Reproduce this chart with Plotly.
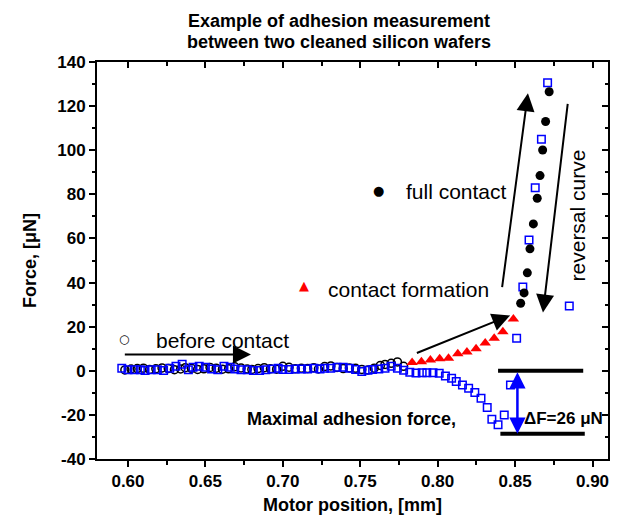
import plotly.graph_objects as go

# ---------------- data ----------------
before_x = [0.598, 0.602, 0.606, 0.610, 0.614, 0.618, 0.622, 0.626, 0.630, 0.634, 0.637, 0.641,
            0.645, 0.649, 0.653, 0.657, 0.661, 0.665, 0.669, 0.673, 0.677, 0.680, 0.684, 0.688,
            0.692, 0.696, 0.700, 0.704, 0.708, 0.712, 0.716, 0.720, 0.723, 0.727, 0.731, 0.735,
            0.739, 0.743, 0.747, 0.751, 0.755, 0.759, 0.763, 0.766, 0.770, 0.774, 0.778]
before_y = [0.4, 0.8, 1.0, 1.2, 0.6, 0.9, 1.3, 1.0, 0.5, 0.8, 1.4, 1.1, 0.6, 0.9, 1.5, 1.2,
            0.7, 0.9, 1.8, 1.3, 0.8, 0.6, 1.0, 1.4, 0.9, 0.7, 2.0, 1.6, 0.9, 1.2, 1.0, 1.4,
            0.8, 1.9, 2.2, 1.5, 1.0, 1.3, 1.1, 0.6, 0.4, 1.2, 2.4, 2.9, 3.4, 4.0, 2.0]

formation_x = [0.7835, 0.7895, 0.7953, 0.8013, 0.8070, 0.8130, 0.8189, 0.8248, 0.8307, 0.8365, 0.8421, 0.8489]
formation_y = [3.7, 4.1, 4.9, 5.5, 5.7, 7.7, 8.5, 10.0, 12.6, 14.7, 17.7, 23.5]

full_x = [0.8536, 0.8558, 0.8579, 0.8596, 0.8618, 0.8643, 0.8661, 0.8678, 0.8697, 0.8720]
full_y = [30.6, 35.3, 44.4, 55.3, 66.6, 78.2, 88.5, 100.1, 113.0, 126.5]

reversal_x = [0.596, 0.600, 0.604, 0.608, 0.611, 0.615, 0.619, 0.623, 0.627, 0.631, 0.635, 0.639,
              0.642, 0.646, 0.650, 0.654, 0.658, 0.662, 0.666, 0.669, 0.673, 0.677, 0.681, 0.685,
              0.689, 0.693, 0.697, 0.700, 0.704, 0.708, 0.712, 0.716, 0.720, 0.724, 0.727, 0.731,
              0.735, 0.739, 0.743, 0.747, 0.751, 0.755, 0.758, 0.762, 0.766, 0.770, 0.774, 0.778,
              0.782, 0.786, 0.790, 0.793, 0.797, 0.801, 0.805, 0.809, 0.812, 0.816, 0.820, 0.824,
              0.828, 0.832, 0.835, 0.839, 0.843, 0.847, 0.851, 0.855, 0.859, 0.863, 0.867, 0.871,
              0.885]
reversal_y = [1.1, 0.5, 0.5, 0.5, 0.1, 0.5, 0.5, 0.1, 1.1, 2.0, 3.0, 0.5, 1.6, 2.0, 1.6, 0.8,
              0.5, 2.0, 1.6, 0.8, 0.5, 0.5, 0.1, 0.1, 0.5, 0.8, 1.1,
              0.55, 0.55, 0.85, 0.85, 0.85, 1.15, 0.85, 1.15, 1.15, 1.6, 1.6, 1.15, 0.55, -0.3,
              0.2, 0.55, 0.85, 1.15, 2.1, 1.15, 0.2, -0.7, -1.0,
              -0.85, -0.85, -0.85, -1.1, -2.4, -3.4, -4.9, -6.4, -7.9, -9.9, -12.5, -16.6,
              -22.0, -24.5, -20.0, -6.4, 14.7, 38.0, 59.3, 83.0, 105.0, 130.6,
              29.4]

x_ticks = [0.60, 0.65, 0.70, 0.75, 0.80, 0.85, 0.90]
x_tick_labels = ["0.60", "0.65", "0.70", "0.75", "0.80", "0.85", "0.90"]
y_ticks = [-40, -20, 0, 20, 40, 60, 80, 100, 120, 140]
y_tick_labels = ["-40", "-20", "0", "20", "40", "60", "80", "100", "120", "140"]

adhesion_top = 0.0
adhesion_bottom = -28.5

FONT = "Liberation Sans, Arial, sans-serif"

fig = go.Figure()
fig.add_trace(go.Scatter(x=before_x, y=before_y, mode="markers",
                         marker=dict(symbol="circle-open", size=8, color="black", line=dict(width=1.5))))
fig.add_trace(go.Scatter(x=reversal_x, y=reversal_y, mode="markers",
                         marker=dict(symbol="square-open", size=7.5, color="#0000FF", line=dict(width=1.5))))
fig.add_trace(go.Scatter(x=formation_x, y=formation_y, mode="markers",
                         marker=dict(symbol="triangle-up", size=10, color="#FF0000")))
fig.add_trace(go.Scatter(x=full_x, y=full_y, mode="markers",
                         marker=dict(symbol="circle", size=9, color="black")))
# empty trace to register the mirrored (top/right) axes
fig.add_trace(go.Scatter(x=[], y=[], xaxis="x2", yaxis="y2", hoverinfo="skip"))

xr = [0.58, 0.91]
yr = [-40, 140]
ax_common = dict(showline=True, linecolor="black", linewidth=2, showgrid=False, zeroline=False,
                 tickcolor="black", tickwidth=2, ticklen=6, automargin=False)
# the page body has an 8px margin, so the figure is sized/margined to land the plot box
# at the same spot as in the reference
fig.update_layout(
    template="none",
    width=613, height=517, showlegend=False,
    plot_bgcolor="white", paper_bgcolor="white",
    margin=dict(l=89, r=13, t=54, b=66, autoexpand=False),
    font=dict(family=FONT, color="black"),
    xaxis=dict(range=xr, tickvals=x_ticks, ticktext=x_tick_labels, ticks="outside",
               minor=dict(ticks="outside", ticklen=3.5, tickwidth=2, tickcolor="black", dtick=0.025, tick0=0.6),
               tickfont=dict(size=17, weight="bold", family=FONT),
               title=dict(text="Motor position, [mm]", font=dict(size=18, weight="bold", family=FONT), standoff=8),
               **ax_common),
    yaxis=dict(range=yr, tickvals=y_ticks, ticktext=y_tick_labels, ticks="outside",
               minor=dict(ticks="outside", ticklen=3.5, tickwidth=2, tickcolor="black", dtick=10, tick0=0),
               tickfont=dict(size=17, weight="bold", family=FONT),
               title=dict(text="Force, [μN]", font=dict(size=18, weight="bold", family=FONT), standoff=16),
               **ax_common),
    xaxis2=dict(range=xr, overlaying="x", side="top", anchor="y2", tickvals=x_ticks, ticks="inside",
                showticklabels=False,
                minor=dict(ticks="inside", ticklen=3.5, tickwidth=2, tickcolor="black", dtick=0.025, tick0=0.6),
                **ax_common),
    yaxis2=dict(range=yr, overlaying="y", side="right", anchor="x2", tickvals=y_ticks, ticks="inside",
                showticklabels=False,
                minor=dict(ticks="inside", ticklen=3.5, tickwidth=2, tickcolor="black", dtick=10, tick0=0),
                **ax_common),
)

# title (two lines placed separately)
plot_h = 517 - 54 - 66
title_font = dict(size=18, family=FONT, color="black")
fig.add_annotation(xref="paper", yref="paper", x=0.4736, y=1 + (62 - 20.7) / plot_h, xanchor="center",
                   yanchor="middle", showarrow=False, text="<b>Example of adhesion measurement</b>", font=title_font)
fig.add_annotation(xref="paper", yref="paper", x=0.4736, y=1 + (62 - 42.3) / plot_h, xanchor="center",
                   yanchor="middle", showarrow=False, text="<b>between two cleaned silicon wafers</b>", font=title_font)

# text labels
txt = dict(size=21, family=FONT, color="black")
fig.add_annotation(x=0.617, y=13.7, text="before contact", showarrow=False, xanchor="left", yanchor="middle", font=txt)
fig.add_annotation(x=0.7282, y=36.9, text="contact formation", showarrow=False, xanchor="left", yanchor="middle", font=txt)
fig.add_annotation(x=0.778, y=81.3, text="full contact", showarrow=False, xanchor="left", yanchor="middle", font=txt)
fig.add_annotation(x=0.8906, y=70.4, text="reversal curve", showarrow=False, textangle=-90,
                   xanchor="center", yanchor="middle", font=txt)
fig.add_annotation(x=0.8133, y=-21.7, text="<b>Maximal adhesion force,</b>", showarrow=False,
                   xanchor="right", yanchor="middle", font=dict(size=18, family=FONT, color="black"))
fig.add_annotation(x=0.8545, y=-21.7, text="<b>ΔF=26 μN</b>", showarrow=False,
                   xanchor="left", yanchor="middle", font=dict(size=17, family=FONT, color="black"))

# key glyphs
fig.add_annotation(x=0.5977, y=14.6, text="○", showarrow=False, font=dict(size=12, family="DejaVu Sans", color="black"))
fig.add_annotation(x=0.7137, y=38.7, text="▲", showarrow=False, font=dict(size=13, family="DejaVu Sans", color="#FF0000"))
fig.add_annotation(x=0.7618, y=81.8, text="●", showarrow=False, font=dict(size=13, family="DejaVu Sans", color="black"))

# arrows
arrows = [
    ((0.597, 7.35), (0.6794, 7.35)),
    ((0.7856, 7.8), (0.8468, 25.1)),
    ((0.8415, 37.3), (0.8583, 125.8)),
    ((0.8841, 121.7), (0.868, 26.4)),
]
for (x0, y0), (x1, y1) in arrows:
    fig.add_annotation(x=x1, y=y1, ax=x0, ay=y0, xref="x", yref="y", axref="x", ayref="y",
                       showarrow=True, arrowhead=2, arrowsize=1.8, arrowwidth=2, arrowcolor="black", text="")

# adhesion bars and double arrow
fig.add_shape(type="line", x0=0.839, x1=0.894, y0=adhesion_top, y1=adhesion_top, line=dict(color="black", width=4))
fig.add_shape(type="line", x0=0.8405, x1=0.895, y0=adhesion_bottom, y1=adhesion_bottom, line=dict(color="black", width=4))
fig.add_annotation(x=0.8515, y=adhesion_bottom, ax=0.8515, ay=adhesion_top, xref="x", yref="y", axref="x", ayref="y",
                   showarrow=True, arrowhead=2, arrowside="end+start", arrowsize=1.3, arrowwidth=2.5,
                   arrowcolor="#0000FF", text="")

fig.write_html("out.html")
